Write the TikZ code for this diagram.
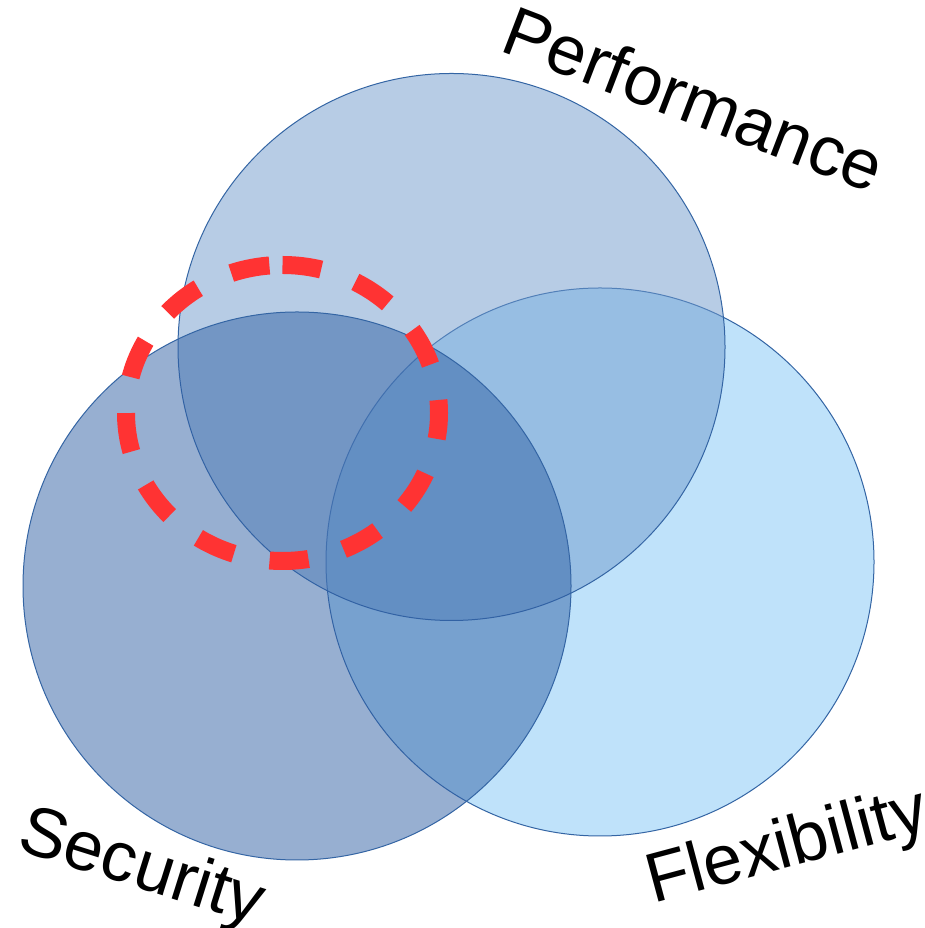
\documentclass[tikz,border=0pt]{standalone}
\usepackage{fontspec}
\setmainfont{Liberation Sans}
\definecolor{perfc}{RGB}{113,155,205}
\definecolor{secc}{RGB}{49,97,165}
\definecolor{flexc}{RGB}{129,199,247}
\definecolor{vennedge}{RGB}{52,101,164}
\definecolor{dashred}{RGB}{255,51,51}
\begin{document}
\begin{tikzpicture}[x=1pt,y=1pt,
  venn/.style={draw=vennedge, line width=1pt, fill opacity=0.5},
  reddash/.style={draw=dashred, line width=18pt, dash pattern=on 39pt off 36.4pt},
  lbl/.style={font=\fontsize{70}{84}\selectfont, inner sep=0pt, anchor=base west, text=black}]
\useasboundingbox (0,0) rectangle (925,928);
\fill[white] (0,0) rectangle (925,928);
% circles
\path[venn, fill=flexc] (600,366) circle[radius=274];
\path[venn, fill=perfc] (451.5,581) circle[radius=273.5];
\path[venn, fill=secc] (297,342) circle[radius=274];
% dashed red ellipse
\coordinate (focus) at (282.5,515);
\draw[reddash] (focus) ++(0,148) arc[start angle=90, end angle=-270, x radius=156.5, y radius=148];
% labels
\node[lbl, rotate=-21] (perf) at (498,878) {Performance};
\node[lbl, rotate=-17.5] (sec) at (15,79) {Security};
\node[lbl, rotate=15] (flex) at (653,24) {Flexibility};
\end{tikzpicture}
\end{document}
